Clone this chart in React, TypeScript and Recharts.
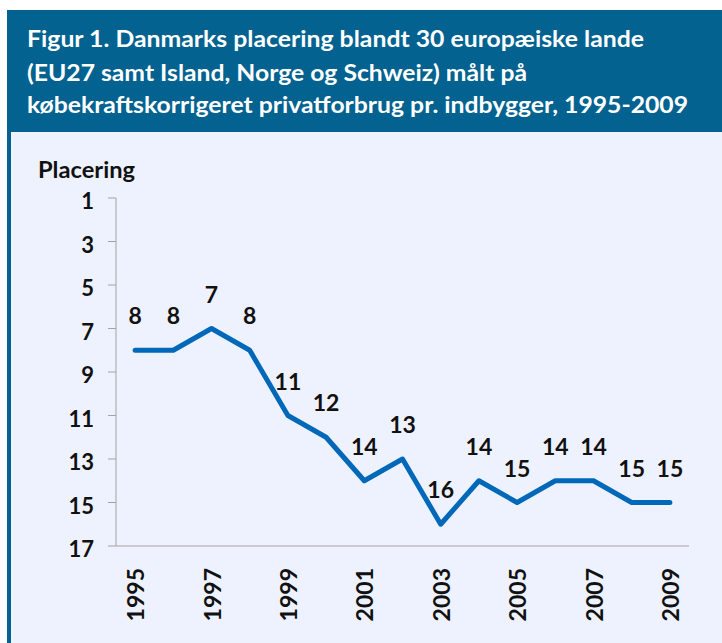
import React from 'react';
import { LineChart, Line, XAxis, YAxis, LabelList } from 'recharts';

const years = [1995, 1996, 1997, 1998, 1999, 2000, 2001, 2002, 2003, 2004, 2005, 2006, 2007, 2008, 2009];
const ranks = [8, 8, 7, 8, 11, 12, 14, 13, 16, 14, 15, 14, 14, 15, 15];
const yTicks = [1, 3, 5, 7, 9, 11, 13, 15, 17];
const xLabelYears = [1995, 1997, 1999, 2001, 2003, 2005, 2007, 2009];
const titleLines = [
  'Figur 1. Danmarks placering blandt 30 europæiske lande',
  '(EU27 samt Island, Norge og Schweiz) målt på',
  'købekraftskorrigeret privatforbrug pr. indbygger, 1995-2009',
];
const yAxisTitle = 'Placering';

const data = years.map((year, i) => ({ year, rank: ranks[i] }));
const boundaries = [...years.map((y) => y - 0.5), years[years.length - 1] + 0.5];

const FONT = "Lato, 'Open Sans', sans-serif";
const HEADER = '#03628F';
const PANEL = '#EEF2FE';
const LINE = '#0068B8';
const AXIS = '#A3A3A3';

const titleLengths = [617, 500, 661];
const titleBaselines = [47, 81, 113];

const YTick = (props: any) => {
  const { x, y, payload } = props;
  return (
    <text x={x} y={y + 11} textAnchor="end" fontFamily={FONT} fontWeight={700} fontSize={22} fill="#111">
      {payload.value}
    </text>
  );
};

const XTick = (props: any) => {
  const { x, y, payload } = props;
  const cx = x + 9;
  return (
    <text
      x={cx}
      y={y}
      transform={`rotate(-90 ${cx} ${y})`}
      textAnchor="end"
      fontFamily={FONT}
      fontWeight={700}
      fontSize={23}
      fill="#111"
    >
      {payload.value}
    </text>
  );
};

const PointLabel = (props: any) => {
  const { x, y, value } = props;
  return (
    <text x={x} y={y - 26} textAnchor="middle" fontFamily={FONT} fontWeight={700} fontSize={23} fill="#111">
      {value}
    </text>
  );
};

export default function App() {
  return (
    <div style={{ position: 'absolute', left: 0, top: 0, width: 722, height: 643, background: '#fff', overflow: 'hidden' }}>
      <div style={{ position: 'absolute', left: 7, top: 10, width: 715, height: 633, background: HEADER }} />
      <div style={{ position: 'absolute', left: 11, top: 132, width: 711, height: 511, background: PANEL }} />
      <svg style={{ position: 'absolute', left: 0, top: 0 }} width={722} height={200}>
        {titleLines.map((t, i) => (
          <text
            key={i}
            x={27}
            y={titleBaselines[i]}
            textLength={titleLengths[i]}
            lengthAdjust="spacingAndGlyphs"
            fontFamily={FONT}
            fontWeight={700}
            fontSize={23}
            fill="#fff"
          >
            {t}
          </text>
        ))}
        <text x={38} y={178} textLength={97} lengthAdjust="spacingAndGlyphs" fontFamily={FONT} fontWeight={700} fontSize={22} fill="#111">
          {yAxisTitle}
        </text>
      </svg>
      <div style={{ position: 'absolute', left: 0, top: 0 }}>
        <LineChart width={722} height={643} data={data} margin={{ top: 198, right: 33, bottom: 0, left: 0 }}>
          <XAxis
            dataKey="year"
            type="number"
            domain={[boundaries[0], boundaries[boundaries.length - 1]]}
            ticks={boundaries}
            tick={false}
            tickSize={8}
            height={22}
            axisLine={{ stroke: AXIS, strokeWidth: 1 }}
            tickLine={{ stroke: AXIS, strokeWidth: 1 }}
            allowDecimals
          />
          <XAxis
            xAxisId="labels"
            dataKey="year"
            type="number"
            domain={[boundaries[0], boundaries[boundaries.length - 1]]}
            ticks={xLabelYears}
            tick={<XTick />}
            tickSize={0}
            tickMargin={0}
            height={75}
            axisLine={false}
            tickLine={false}
            interval={0}
          />
          <YAxis
            type="number"
            domain={[1, 17]}
            reversed
            ticks={yTicks}
            width={116}
            tickSize={8}
            tickMargin={14}
            tick={<YTick />}
            axisLine={{ stroke: AXIS, strokeWidth: 1 }}
            tickLine={{ stroke: AXIS, strokeWidth: 1 }}
            interval={0}
          />
          <Line
            dataKey="rank"
            stroke={LINE}
            strokeWidth={5}
            dot={false}
            strokeLinejoin="round"
            strokeLinecap="round"
            isAnimationActive={false}
          >
            <LabelList dataKey="rank" content={<PointLabel />} />
          </Line>
        </LineChart>
      </div>
    </div>
  );
}
